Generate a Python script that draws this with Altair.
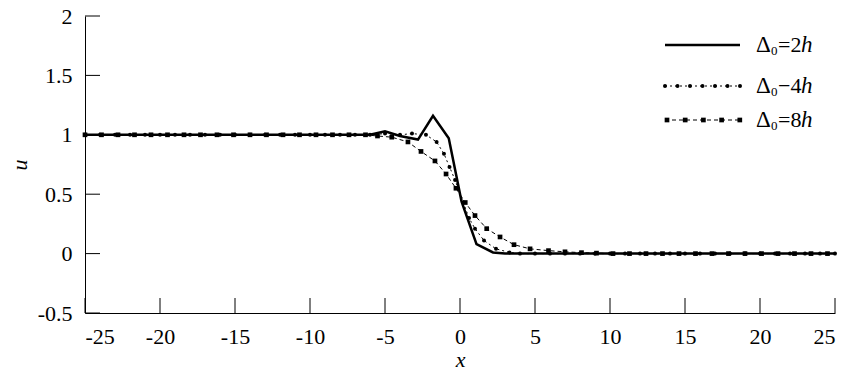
import altair as alt
import pandas as pd

# ---- data ----
x_2h = [-25, -20, -15, -10, -6, -5, -4, -2.8, -1.8, -0.75, 0.1, 1.1, 2.2, 3, 10, 25]
u_2h = [1.0, 1.0, 1.0, 1.0, 1.0, 1.03, 0.99, 0.96, 1.16, 0.97, 0.44, 0.08, 0.01, 0.0, 0.0, 0.0]

x_4h = [-25, -24, -23, -22, -21, -20, -19, -18, -17, -16, -15, -14, -13, -12, -11, -10,
        -9, -8, -7, -6, -5, -4, -3.2, -2.27, -1.56, -1.07, -0.7, -0.33, 0.22, 0.6, 1.0,
        1.6, 2.4, 3.3, 4, 5, 6, 7, 8, 9, 10, 11, 12, 13, 14, 15, 16, 17, 18, 19, 20, 21,
        22, 23, 24, 25]
u_4h = [1.0, 1.0, 1.0, 1.0, 1.0, 1.0, 1.0, 1.0, 1.0, 1.0, 1.0, 1.0, 1.0, 1.0, 1.0, 1.0,
        1.0, 1.0, 1.0, 1.0, 1.01, 1.0, 1.01, 1.0, 0.94, 0.84, 0.73, 0.62, 0.43, 0.30, 0.21,
        0.11, 0.04, 0.01, 0.0, 0.0, 0.0, 0.0, 0.0, 0.0, 0.0, 0.0, 0.0, 0.0, 0.0, 0.0, 0.0,
        0.0, 0.0, 0.0, 0.0, 0.0, 0.0, 0.0, 0.0, 0.0]

x_8h = [-25, -23.9, -22.8, -21.7, -20.6, -19.5, -18.4, -17.3, -16.2, -15.1, -14, -12.9,
        -11.8, -10.7, -9.6, -8.5, -7.4, -6.3, -5.5, -4.55, -3.47, -2.6, -1.67, -0.93, -0.27,
        0.35, 1.0, 1.78, 2.67, 3.6, 4.67, 5.9, 7.0, 8.1, 9.1, 10.2, 11.3, 12.4, 13.5, 14.6,
        15.7, 16.8, 17.9, 19.0, 20.1, 21.2, 22.3, 23.4, 24.5]
u_8h = [1.0, 1.0, 1.0, 1.0, 1.0, 1.0, 1.0, 1.0, 1.0, 1.0, 1.0, 1.0,
        1.0, 1.0, 1.0, 1.0, 1.0, 1.0, 0.99, 0.98, 0.94, 0.86, 0.78, 0.67, 0.55,
        0.43, 0.32, 0.21, 0.14, 0.075, 0.04, 0.025, 0.015, 0.008, 0.004, 0.0, 0.0, 0.0, 0.0, 0.0,
        0.0, 0.0, 0.0, 0.0, 0.0, 0.0, 0.0, 0.0, 0.0]

x_ticks = [-25, -20, -15, -10, -5, 0, 5, 10, 15, 20, 25]
y_ticks = [-0.5, 0, 0.5, 1, 1.5, 2]
legend_nums = ["=2", "\u22124", "=8"]

FONT = "Liberation Serif"
W, H = 750, 297

xs = alt.Scale(domain=[-25, 25], nice=False, zero=False)
ys = alt.Scale(domain=[-0.5, 2], nice=False, zero=False)

df2 = pd.DataFrame({"x": x_2h, "u": u_2h})
df4 = pd.DataFrame({"x": x_4h, "u": u_4h})
df8 = pd.DataFrame({"x": x_8h, "u": u_8h})

xaxis = alt.Axis(values=x_ticks, labelExpr="'' + datum.value", labelPadding=13,
                 title="x", titlePadding=2)
yaxis = alt.Axis(values=y_ticks, labelExpr="'' + datum.value", labelPadding=13,
                 title="u", titlePadding=6)

X = alt.X("x:Q", scale=xs, axis=xaxis)
Y = alt.Y("u:Q", scale=ys, axis=yaxis)

line2 = alt.Chart(df2).mark_line(color="black", strokeWidth=2.5).encode(x=X, y=Y)
line4 = alt.Chart(df4).mark_line(color="black", strokeWidth=1, strokeDash=[2, 3]).encode(x=X, y=Y)
pts4 = alt.Chart(df4).mark_circle(color="black", size=16, opacity=1).encode(x=X, y=Y)
line8 = alt.Chart(df8).mark_line(color="black", strokeWidth=1, strokeDash=[4, 3]).encode(x=X, y=Y)
pts8 = alt.Chart(df8).mark_square(color="black", size=22, opacity=1).encode(x=X, y=Y)

xt = alt.Chart(pd.DataFrame({"x": x_ticks})).mark_rule(color="black", strokeWidth=1).encode(
    x=X, y=alt.value(H), y2=alt.value(H - 15))
yt = alt.Chart(pd.DataFrame({"u": y_ticks})).mark_rule(color="black", strokeWidth=1).encode(
    y=Y, x=alt.value(0), x2=alt.value(15))

one = pd.DataFrame({"a": [0]})
layers = [line2, line4, line8, pts4, pts8, xt, yt]

# legend (drawn by hand)
LX0, LX1 = 580, 655
rows_y = [29, 70, 104]
layers.append(alt.Chart(one).mark_rule(color="black", strokeWidth=2.5).encode(
    x=alt.value(LX0), x2=alt.value(LX1), y=alt.value(rows_y[0])))
layers.append(alt.Chart(one).mark_rule(color="black", strokeWidth=1, strokeDash=[2, 3]).encode(
    x=alt.value(LX0), x2=alt.value(LX1), y=alt.value(rows_y[1])))
layers.append(alt.Chart(one).mark_rule(color="black", strokeWidth=1, strokeDash=[4, 3]).encode(
    x=alt.value(LX0), x2=alt.value(LX1), y=alt.value(rows_y[2])))
for k in range(7):
    layers.append(alt.Chart(one).mark_circle(color="black", size=16, opacity=1).encode(
        x=alt.value(LX0 + k * 12.5), y=alt.value(rows_y[1])))
for k in range(5):
    layers.append(alt.Chart(one).mark_square(color="black", size=22, opacity=1).encode(
        x=alt.value(LX0 + 2 + k * 18.2), y=alt.value(rows_y[2])))

TX = 671
for i, ry in enumerate(rows_y):
    base = ry + 7
    layers.append(alt.Chart(one).mark_text(font=FONT, fontSize=23, align="left",
                                           baseline="alphabetic", color="black", text="\u0394").encode(
        x=alt.value(TX), y=alt.value(base)))
    layers.append(alt.Chart(one).mark_text(font=FONT, fontSize=13, align="left",
                                           baseline="alphabetic", color="black", text="0").encode(
        x=alt.value(TX + 15), y=alt.value(base + 3)))
    layers.append(alt.Chart(one).mark_text(font=FONT, fontSize=22, align="left",
                                           baseline="alphabetic", color="black",
                                           text=legend_nums[i]).encode(
        x=alt.value(TX + 22), y=alt.value(base)))
    layers.append(alt.Chart(one).mark_text(font=FONT, fontSize=23, align="left",
                                           baseline="alphabetic", color="black", fontStyle="italic",
                                           text="h").encode(
        x=alt.value(TX + 45), y=alt.value(base)))

chart = alt.layer(*layers).properties(
    width=W, height=H,
    autosize=alt.AutoSizeParams(type="none"),
    padding={"left": 77, "top": 8, "right": 3, "bottom": 59},
    background="white",
).configure(
    font=FONT
).configure_axis(
    ticks=False, grid=False, domainColor="black", domainWidth=1,
    labelFont=FONT, labelFontSize=22, labelColor="black",
    titleFont=FONT, titleFontSize=22, titleFontStyle="italic",
    titleFontWeight="normal", titleColor="black",
).configure_text(font=FONT).configure_view(stroke=None)

chart.save("out.html", embed_options={"renderer": "svg", "actions": False})
